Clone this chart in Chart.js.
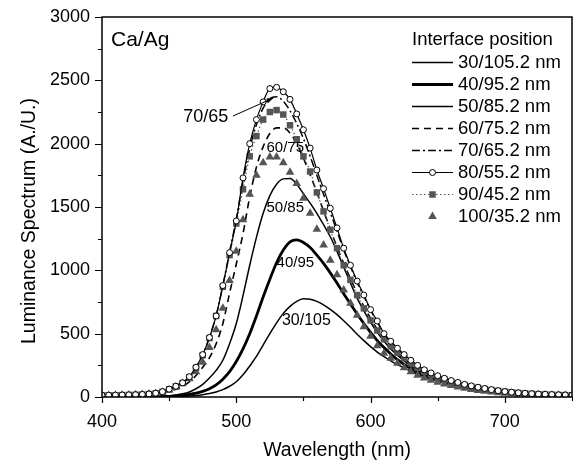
<!DOCTYPE html>
<html>
<head>
<meta charset="utf-8">
<script src="https://cdn.jsdelivr.net/npm/chart.js@4.4.1/dist/chart.umd.min.js"></script>
<style>
  html, body { margin: 0; padding: 0; background: #fff; }
  canvas { display: block; }
</style>
</head>
<body>
<canvas id="chart" width="573" height="468"></canvas>
<script>
// wavelength grid (nm)
const wavelength = [
  400,405,410,415,420,425,430,435,440,445,
  450,455,460,465,470,475,480,485,490,495,
  500,505,510,515,520,525,530,535,540,545,
  550,555,560,565,570,575,580,585,590,595,
  600,605,610,615,620,625,630,635,640,645,
  650,655,660,665,670,675,680,685,690,695,
  700,705,710,715,720,725,730,735,740,745,
  750
];

// luminance spectra, one list per interface position
const s30 = [
  1,1,1,1,1,1,2,2,2,3,
  3,4,5,8,12,18,27,40,58,85,
  120,175,245,320,410,500,585,660,715,755,
  775,772,755,728,692,650,602,550,495,445,
  398,355,318,285,255,228,203,180,160,142,
  126,112,99,88,78,69,61,54,48,42,
  37,33,29,26,23,20,18,16,14,13,
  12
];
const s40 = [
  2,2,2,2,2,2,3,3,4,4,
  5,8,13,20,30,45,65,95,140,200,
  280,380,500,640,790,930,1060,1160,1225,1240,
  1220,1180,1120,1055,980,900,815,735,655,580,
  510,445,390,340,295,258,225,196,171,150,
  131,115,101,89,78,69,60,53,46,41,
  36,32,28,25,22,20,18,16,14,13,
  12
];
const s50 = [
  3,3,3,3,3,4,4,5,5,6,
  8,15,25,40,65,100,150,210,290,420,
  580,800,1040,1260,1450,1590,1680,1722,1725,1680,
  1605,1530,1450,1360,1265,1150,1025,900,780,680,
  590,510,440,380,330,285,245,212,185,160,
  140,122,107,94,82,72,63,55,48,42,
  37,33,29,26,23,20,18,16,14,13,
  12
];
const s60 = [
  10,10,11,12,13,14,16,19,24,32,
  45,62,85,120,170,235,310,420,580,820,
  1050,1290,1580,1815,1975,2080,2125,2125,2085,2000,
  1885,1755,1615,1470,1325,1185,1055,935,820,715,
  620,535,460,400,345,300,260,225,195,170,
  150,132,116,102,90,79,69,60,52,46,
  40,35,31,27,24,21,19,17,15,14,
  13
];
const s70 = [
  13,13,14,15,16,17,19,23,29,40,
  60,83,110,158,232,332,468,645,880,1145,
  1405,1705,1960,2150,2280,2355,2370,2335,2260,2160,
  2040,1900,1750,1600,1455,1310,1160,1030,905,795,
  685,592,498,435,380,330,286,247,212,187,
  165,145,128,113,98,86,75,66,57,49,
  42,37,32,28,25,22,20,18,16,15,
  14
];
const s80 = [
  14,14,15,16,17,18,20,24,30,42,
  62,85,112,160,235,335,470,640,880,1140,
  1390,1730,2000,2190,2330,2435,2445,2410,2350,2235,
  2110,1965,1792,1645,1490,1335,1175,1040,915,805,
  690,600,500,440,385,335,290,250,215,190,
  168,148,130,115,100,88,77,67,58,50,
  43,38,33,29,26,23,21,19,17,16,
  15
];
const s90 = [
  13,13,14,15,16,17,19,23,29,40,
  60,83,110,155,230,330,465,640,870,1120,
  1370,1640,1900,2060,2190,2250,2265,2230,2145,2035,
  1900,1780,1615,1465,1320,1175,1040,925,805,700,
  605,525,455,400,350,305,265,230,200,175,
  155,137,120,106,93,82,72,63,55,48,
  42,37,32,28,25,22,20,18,16,15,
  14
];
const s100 = [
  12,12,13,14,15,17,19,23,28,38,
  55,78,108,145,200,275,390,530,700,920,
  1150,1400,1600,1750,1850,1895,1895,1850,1775,1685,
  1570,1450,1325,1200,1080,965,845,740,645,555,
  480,405,345,305,266,230,200,172,150,132,
  116,102,90,79,69,60,52,45,39,34,
  30,27,24,21,19,17,15,14,13,12,
  11
];

const seriesLabels = ['30/105.2 nm','40/95.2 nm','50/85.2 nm','60/75.2 nm',
                      '70/65.2 nm','80/55.2 nm','90/45.2 nm','100/35.2 nm'];
const xTicks = [400,450,500,550,600,650,700,750];
const yTicks = [0,250,500,750,1000,1250,1500,1750,2000,2250,2500,2750,3000];

// curve labels placed in data space
const curveNotes = [
  { text: '70/65', x: 460.5, y: 2210, size: 18 },
  { text: '60/75', x: 522.5, y: 1966, size: 15 },
  { text: '50/85', x: 522.5, y: 1496, size: 15 },
  { text: '40/95', x: 530, y: 1058, size: 15 },
  { text: '30/105', x: 534, y: 600, size: 16 }
];
const arrowFrom = { x: 497.5, y: 2218 };
const arrowTo = { x: 527.5, y: 2360 };

const FONT = '"Liberation Sans", Arial, sans-serif';

function pts(arr) {
  return wavelength.map((w, i) => ({ x: w, y: arr[i] }));
}

const lineBase = {
  borderColor: '#000',
  backgroundColor: '#000',
  pointRadius: 0,
  fill: false,
  cubicInterpolationMode: 'monotone'
};

const datasets = [
  { ...lineBase, label: seriesLabels[0], data: pts(s30), borderWidth: 1.5, order: 8 },
  { ...lineBase, label: seriesLabels[1], data: pts(s40), borderWidth: 2.8, order: 7 },
  { ...lineBase, label: seriesLabels[2], data: pts(s50), borderWidth: 1.5, order: 6 },
  { ...lineBase, label: seriesLabels[3], data: pts(s60), borderWidth: 1.6, borderDash: [7, 5], order: 5 },
  { ...lineBase, label: seriesLabels[4], data: pts(s70), borderWidth: 1.5, borderDash: [8, 3, 2, 3], order: 4 },
  { ...lineBase, label: seriesLabels[5], data: pts(s80), borderWidth: 1.2,
    pointRadius: 3, pointStyle: 'circle', pointBackgroundColor: '#fff',
    pointBorderColor: '#000', pointBorderWidth: 1, order: 0 },
  { ...lineBase, label: seriesLabels[6], data: pts(s90), borderWidth: 1.2, borderColor: '#555',
    borderDash: [1.5, 2.5], pointRadius: 4.6, pointStyle: 'rect',
    pointBackgroundColor: '#555', pointBorderColor: '#555', pointBorderWidth: 0, order: 1 },
  { ...lineBase, label: seriesLabels[7], data: pts(s100), showLine: false,
    pointRadius: 5, pointStyle: 'triangle', pointBackgroundColor: '#555',
    pointBorderColor: '#555', pointBorderWidth: 0, order: 2 }
];

const decor = {
  id: 'decor',
  afterDraw(chart) {
    const { ctx, chartArea: a, scales: { x, y } } = chart;
    ctx.save();
    ctx.strokeStyle = '#000';
    ctx.lineWidth = 1.5;
    ctx.setLineDash([]);
    ctx.strokeRect(a.left, a.top, a.right - a.left, a.bottom - a.top);
    // tick marks
    ctx.lineWidth = 1.2;
    ctx.beginPath();
    xTicks.forEach(v => {
      const p = Math.round(x.getPixelForValue(v)) + 0.5;
      const len = v % 100 === 0 ? 6 : 4;
      ctx.moveTo(p, a.bottom);
      ctx.lineTo(p, a.bottom + len);
    });
    yTicks.forEach(v => {
      const p = Math.round(y.getPixelForValue(v)) + 0.5;
      const len = v % 500 === 0 ? 7 : 4;
      ctx.moveTo(a.left, p);
      ctx.lineTo(a.left - len, p);
    });
    ctx.stroke();

    ctx.fillStyle = '#000';
    ctx.textBaseline = 'middle';
    ctx.textAlign = 'center';

    // axis titles
    ctx.font = '19.5px ' + FONT;
    ctx.fillText('Wavelength (nm)', (a.left + a.right) / 2, 451);
    ctx.save();
    ctx.translate(30, 221);
    ctx.rotate(-Math.PI / 2);
    ctx.fillText('Luminance Spectrum (A./U.)', 0, 0);
    ctx.restore();

    // Ca/Ag
    ctx.textAlign = 'left';
    ctx.font = '21px ' + FONT;
    ctx.fillText('Ca/Ag', a.left + 9, a.top + 23);

    // curve labels
    curveNotes.forEach(n => {
      ctx.font = n.size + 'px ' + FONT;
      ctx.fillText(n.text, x.getPixelForValue(n.x), y.getPixelForValue(n.y));
    });
    // arrow for 70/65
    const x1 = x.getPixelForValue(arrowFrom.x), y1 = y.getPixelForValue(arrowFrom.y);
    const x2 = x.getPixelForValue(arrowTo.x), y2 = y.getPixelForValue(arrowTo.y);
    ctx.lineWidth = 1;
    ctx.beginPath();
    ctx.moveTo(x1, y1);
    ctx.lineTo(x2, y2);
    ctx.stroke();
    const ang = Math.atan2(y2 - y1, x2 - x1);
    ctx.beginPath();
    ctx.moveTo(x2, y2);
    ctx.lineTo(x2 - 7 * Math.cos(ang - 0.35), y2 - 7 * Math.sin(ang - 0.35));
    ctx.lineTo(x2 - 7 * Math.cos(ang + 0.35), y2 - 7 * Math.sin(ang + 0.35));
    ctx.closePath();
    ctx.fill();

    // legend
    const lx = 412, lw = 41, tx = 458, ty = 40, rowH = 22;
    ctx.font = '18.5px ' + FONT;
    ctx.fillText('Interface position', lx, ty);
    chart.data.datasets.forEach((ds, i) => {
      const ry = ty + rowH * (i + 1) + 0.5;
      if (ds.showLine !== false) {
        ctx.strokeStyle = ds.borderColor;
        ctx.lineWidth = ds.borderWidth;
        ctx.setLineDash(ds.borderDash || []);
        ctx.beginPath();
        ctx.moveTo(lx, ry);
        ctx.lineTo(lx + lw, ry);
        ctx.stroke();
        ctx.setLineDash([]);
      }
      if (ds.pointRadius > 0) {
        ctx.fillStyle = ds.pointBackgroundColor;
        ctx.strokeStyle = ds.pointBorderColor;
        ctx.lineWidth = ds.pointBorderWidth;
        Chart.helpers.drawPoint(ctx, {
          pointStyle: ds.pointStyle, rotation: 0,
          radius: ds.pointRadius, borderWidth: ds.pointBorderWidth
        }, lx + lw / 2, ry);
      }
      ctx.fillStyle = '#000';
      ctx.fillText(ds.label, tx, ry);
    });
    ctx.restore();
  }
};

new Chart(document.getElementById('chart'), {
  type: 'line',
  data: { datasets },
  options: {
    responsive: false,
    animation: false,
    devicePixelRatio: 1,
    layout: { autoPadding: false, padding: { left: 0, top: 17, right: 1, bottom: 0 } },
    plugins: { legend: { display: false }, tooltip: { enabled: false } },
    scales: {
      x: {
        type: 'linear', min: 400, max: 750,
        afterBuildTicks: s => { s.ticks = xTicks.map(v => ({ value: v })); },
        afterFit: s => { s.height = 71; s.paddingLeft = 0; s.paddingRight = 0; },
        grid: { display: false, drawTicks: false },
        border: { display: false },
        ticks: {
          padding: 14, color: '#000', maxRotation: 0, autoSkip: false,
          font: { family: FONT, size: 18 },
          callback: v => (v % 100 === 0 && v < 750 ? v : '')
        }
      },
      y: {
        type: 'linear', min: 0, max: 3000,
        afterBuildTicks: s => { s.ticks = yTicks.map(v => ({ value: v })); },
        afterFit: s => { s.width = 102; s.paddingTop = 0; s.paddingBottom = 0; },
        grid: { display: false, drawTicks: false },
        border: { display: false },
        ticks: {
          padding: 12, color: '#000', autoSkip: false,
          font: { family: FONT, size: 18 },
          callback: v => (v % 500 === 0 ? v : '')
        }
      }
    }
  },
  plugins: [decor]
});
</script>
</body>
</html>
